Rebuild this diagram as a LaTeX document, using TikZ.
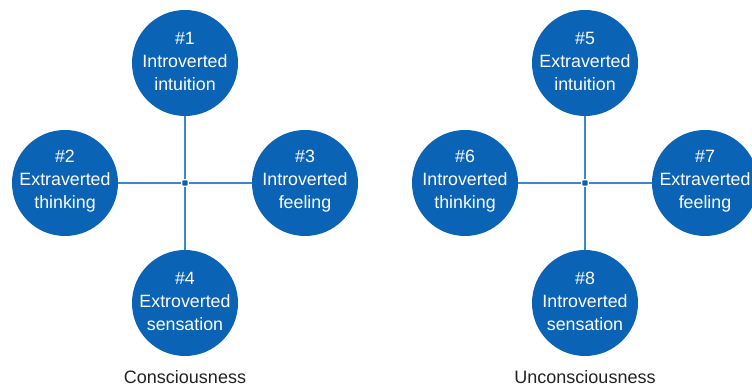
\documentclass[tikz,border=0pt]{standalone}
\usepackage{fontspec}
\setmainfont{Liberation Sans}
\definecolor{discblue}{HTML}{0A63B4}
\definecolor{spokeblue}{HTML}{3A86CF}
\definecolor{captiongray}{HTML}{222222}
\begin{document}
\begin{tikzpicture}[x=1pt,y=-1pt,
  fn/.style={circle, fill=discblue, minimum size=106pt, inner sep=0pt},
  fnlabel/.style={text=white, align=center, inner sep=0pt,
    font=\fontsize{17.8}{23}\selectfont},
  hub/.style={rectangle, rounded corners=1pt, fill=discblue, draw=white,
    line width=1.2pt, minimum size=6.5pt, inner sep=0pt},
  spoke/.style={draw=spokeblue, line width=1.6pt},
  caption/.style={text=captiongray, inner sep=0pt, anchor=base,
    font=\fontsize{18}{20}\selectfont}]
\useasboundingbox (0,0) rectangle (752,387);

% conscious functions
\node[hub] (hA) at (185,183) {};
\node[fn] (f1) at (185,63)  {};
\node[fn] (f2) at (65,183)  {};
\node[fn] (f3) at (305,183) {};
\node[fn] (f4) at (185,303) {};
\node[fnlabel] (t1) at ([yshift=2pt]f1.center) {\#1\\Introverted\\intuition};
\node[fnlabel] (t2) at ([yshift=2pt]f2.center) {\#2\\Extraverted\\thinking};
\node[fnlabel] (t3) at ([yshift=2pt]f3.center) {\#3\\Introverted\\feeling};
\node[fnlabel] (t4) at ([yshift=2pt]f4.center) {\#4\\Extroverted\\sensation};
\draw[spoke] (f1) -- (hA);
\draw[spoke] (f2) -- (hA);
\draw[spoke] (f3) -- (hA);
\draw[spoke] (f4) -- (hA);
\node[caption] (capA) at (185,383) {Consciousness};

% unconscious functions
\node[hub] (hB) at (585,183) {};
\node[fn] (f5) at (585,63)  {};
\node[fn] (f6) at (465,183) {};
\node[fn] (f7) at (705,183) {};
\node[fn] (f8) at (585,303) {};
\node[fnlabel] (t5) at ([yshift=2pt]f5.center) {\#5\\Extraverted\\intuition};
\node[fnlabel] (t6) at ([yshift=2pt]f6.center) {\#6\\Introverted\\thinking};
\node[fnlabel] (t7) at ([yshift=2pt]f7.center) {\#7\\Extraverted\\feeling};
\node[fnlabel] (t8) at ([yshift=2pt]f8.center) {\#8\\Introverted\\sensation};
\draw[spoke] (f5) -- (hB);
\draw[spoke] (f6) -- (hB);
\draw[spoke] (f7) -- (hB);
\draw[spoke] (f8) -- (hB);
\node[caption] (capB) at (585,383) {Unconsciousness};
\end{tikzpicture}
\end{document}
